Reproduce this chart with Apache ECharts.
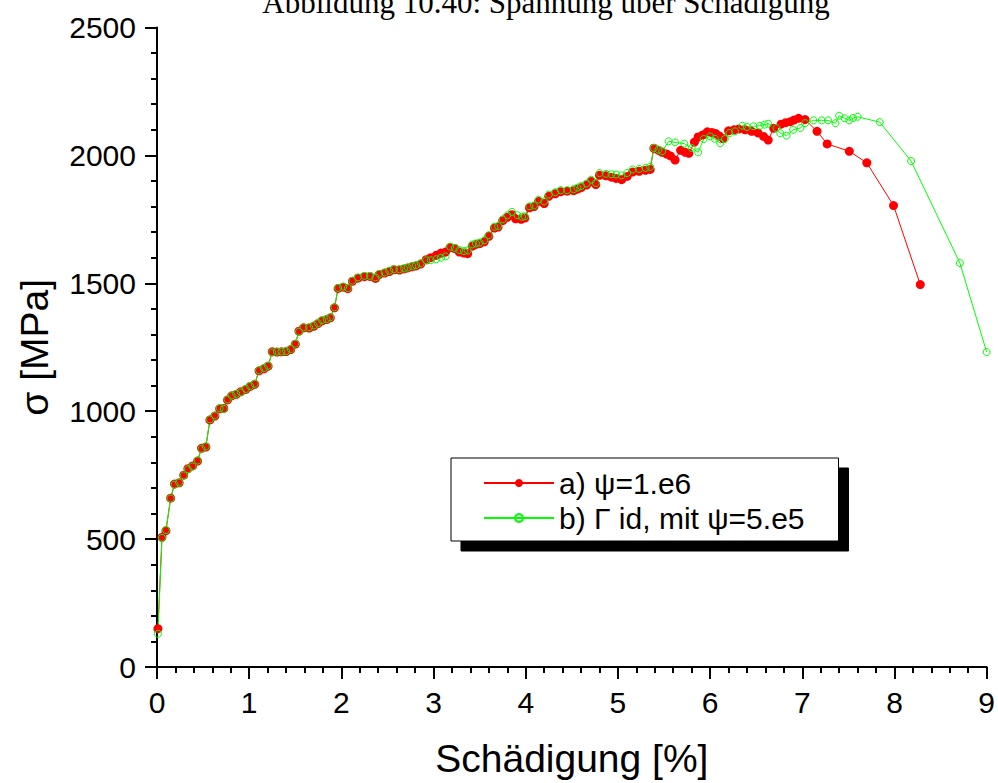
<!DOCTYPE html>
<html>
<head>
<meta charset="utf-8">
<script src="https://cdn.jsdelivr.net/npm/echarts@6/dist/echarts.min.js"></script>
<style>html,body{margin:0;padding:0;background:#fff}#c{width:998px;height:783px}</style>
</head>
<body>
<div id="c"></div>
<script>
const titleText = 'Abbildung 10.40: Spannung über Schädigung';
const xName = 'Schädigung [%]';
const yName = 'σ [MPa]';
const seriesNames = ['a) ψ=1.e6', 'b) Γ id, mit ψ=5.e5'];

const redX = [0.01,0.054,0.097,0.148,0.19,0.24,0.29,0.335,0.386,0.44,0.483,0.53,0.574,0.628,0.68,0.725,0.765,0.81,0.86,0.91,0.963,1.01,1.06,1.107,1.16,1.205,1.25,1.30,1.35,1.40,1.45,1.50,1.54,1.59,1.65,1.70,1.745,1.79,1.84,1.88,1.925,1.965,2.02,2.07,2.12,2.18,2.25,2.31,2.37,2.41,2.47,2.52,2.57,2.63,2.68,2.72,2.77,2.81,2.86,2.92,2.97,3.03,3.08,3.13,3.18,3.23,3.28,3.33,3.37,3.42,3.46,3.50,3.55,3.60,3.66,3.70,3.75,3.80,3.85,3.89,3.95,3.99,4.04,4.09,4.14,4.20,4.25,4.32,4.38,4.45,4.52,4.56,4.60,4.66,4.71,4.76,4.80,4.87,4.93,4.98,5.04,5.10,5.16,5.23,5.30,5.35,5.39,5.44,5.48,5.53,5.57,5.62,5.68,5.73,5.77,5.83,5.87,5.92,5.97,6.02,6.06,6.10,6.14,6.20,6.26,6.31,6.38,6.45,6.52,6.58,6.63,6.69,6.77,6.82,6.87,6.91,6.96,7.03,7.16,7.27,7.51,7.70,7.99,8.28];
const redY = [150,507,533,660,715,720,750,775,786,805,855,860,966,981,1010,1011,1044,1060,1066,1076,1085,1097,1105,1158,1166,1176,1232,1231,1232,1233,1241,1262,1313,1326,1325,1332,1342,1353,1358,1365,1404,1480,1485,1479,1508,1520,1526,1527,1519,1534,1540,1546,1553,1552,1556,1560,1565,1568,1575,1592,1600,1610,1618,1622,1640,1636,1622,1618,1616,1645,1652,1655,1662,1684,1716,1720,1745,1758,1768,1752,1750,1755,1795,1800,1820,1812,1840,1850,1858,1860,1862,1868,1874,1884,1898,1886,1922,1920,1915,1910,1905,1918,1935,1938,1942,1945,2028,2020,2012,2005,1998,1982,2020,2012,2008,2052,2072,2080,2092,2090,2086,2076,2066,2096,2100,2103,2100,2094,2088,2074,2060,2106,2122,2128,2132,2138,2145,2140,2094,2045,2016,1971,1804,1495];

const greenX = [0.01,0.054,0.097,0.148,0.19,0.24,0.29,0.335,0.386,0.44,0.483,0.53,0.574,0.628,0.68,0.725,0.765,0.81,0.86,0.91,0.963,1.01,1.06,1.107,1.16,1.205,1.25,1.30,1.35,1.40,1.45,1.50,1.54,1.59,1.65,1.70,1.745,1.79,1.84,1.88,1.925,1.965,2.02,2.07,2.12,2.18,2.25,2.31,2.37,2.41,2.47,2.52,2.57,2.63,2.68,2.72,2.77,2.81,2.86,2.92,2.97,3.03,3.08,3.13,3.18,3.23,3.28,3.33,3.37,3.42,3.46,3.50,3.55,3.60,3.66,3.70,3.75,3.80,3.85,3.91,3.96,3.99,4.04,4.09,4.14,4.20,4.25,4.32,4.38,4.45,4.52,4.56,4.60,4.66,4.71,4.76,4.80,4.87,4.93,4.98,5.04,5.10,5.16,5.23,5.30,5.35,5.39,5.44,5.48,5.55,5.62,5.72,5.80,5.87,5.93,6.00,6.05,6.11,6.16,6.21,6.27,6.35,6.40,6.47,6.54,6.59,6.63,6.72,6.76,6.83,6.90,6.98,7.03,7.12,7.21,7.28,7.36,7.40,7.46,7.51,7.55,7.60,7.84,8.18,8.71,9.00];
const greenY = [130,505,535,659,713,721,749,773,784,807,853,862,968,983,1012,1009,1046,1061,1068,1074,1087,1098,1107,1160,1168,1178,1230,1233,1233,1235,1243,1264,1311,1328,1328,1335,1344,1356,1360,1367,1406,1482,1487,1481,1510,1523,1529,1529,1523,1537,1542,1549,1555,1555,1558,1562,1567,1571,1578,1590,1590,1594,1600,1605,1643,1638,1630,1626,1628,1652,1656,1659,1668,1688,1721,1724,1750,1766,1779,1766,1760,1762,1801,1804,1827,1820,1847,1856,1864,1864,1868,1874,1880,1890,1905,1892,1931,1928,1926,1925,1922,1931,1945,1947,1951,1955,2029,2022,2016,2055,2051,2046,2029,2012,2064,2074,2065,2048,2064,2087,2094,2116,2111,2114,2116,2120,2124,2107,2087,2077,2100,2107,2126,2137,2137,2137,2126,2155,2145,2137,2146,2151,2130,1978,1579,1231];

const zip = (xs, ys) => xs.map((x, i) => [x, ys[i]]);

const chart = echarts.init(document.getElementById('c'), null, {renderer: 'svg'});
const axisCommon = {
  axisLine: {show: true, onZero: false, lineStyle: {color: '#000', width: 2}},
  axisTick: {show: true, inside: false, length: 12, lineStyle: {color: '#000', width: 2}},
  minorTick: {show: true, splitNumber: 5, length: 6, lineStyle: {color: '#000', width: 2}},
  splitLine: {show: false},
  minorSplitLine: {show: false}
};
const plain = v => String(v);
chart.setOption({
  animation: false,
  backgroundColor: '#fff',
  graphic: [{
    type: 'text', x: 546, y: 18, z: 10,
    style: {text: titleText, font: '31px "Liberation Serif", serif', fill: '#000', textAlign: 'center', textVerticalAlign: 'bottom'}
  }],
  grid: {left: 157, right: 10, top: 27.5, bottom: 114, containLabel: false},
  xAxis: Object.assign({
    type: 'value', min: 0, max: 9, interval: 1,
    name: xName, nameLocation: 'middle', nameGap: 72,
    nameTextStyle: {fontFamily: 'Liberation Sans, Arial', fontSize: 39, color: '#000'},
    axisLabel: {margin: 20, fontFamily: 'Liberation Sans, Arial', fontSize: 30, color: '#000', formatter: plain}
  }, axisCommon),
  yAxis: Object.assign({
    type: 'value', min: 0, max: 2500, interval: 500,
    name: yName, nameLocation: 'middle', nameGap: 103,
    nameTextStyle: {fontFamily: 'Liberation Sans, Arial', fontSize: 39, color: '#000'},
    axisLabel: {margin: 21, fontFamily: 'Liberation Sans, Arial', fontSize: 30, color: '#000', formatter: plain}
  }, axisCommon),
  legend: {
    orient: 'vertical', left: 451, top: 458,
    padding: [10, 34, 8, 32], itemGap: 5,
    itemWidth: 70, itemHeight: 10,
    backgroundColor: '#fff', borderColor: '#000', borderWidth: 1,
    shadowColor: '#000', shadowBlur: 0, shadowOffsetX: 10, shadowOffsetY: 10,
    textStyle: {fontFamily: 'Liberation Sans, Arial', fontSize: 30, color: '#000', padding: [0, 0, 0, 0]},
    data: seriesNames
  },
  series: [
    {
      name: seriesNames[0], type: 'line', data: zip(redX, redY),
      symbol: 'circle', symbolSize: 9, showAllSymbol: true,
      lineStyle: {color: '#ff0000', width: 1},
      itemStyle: {color: '#ff0000', borderWidth: 0}
    },
    {
      name: seriesNames[1], type: 'line', data: zip(greenX, greenY),
      symbol: 'circle', symbolSize: 7, showAllSymbol: true,
      lineStyle: {color: '#00ff00', width: 1},
      itemStyle: {color: 'rgba(0,0,0,0)', borderColor: '#00ff00', borderWidth: 1}
    }
  ]
});
</script>
</body>
</html>
